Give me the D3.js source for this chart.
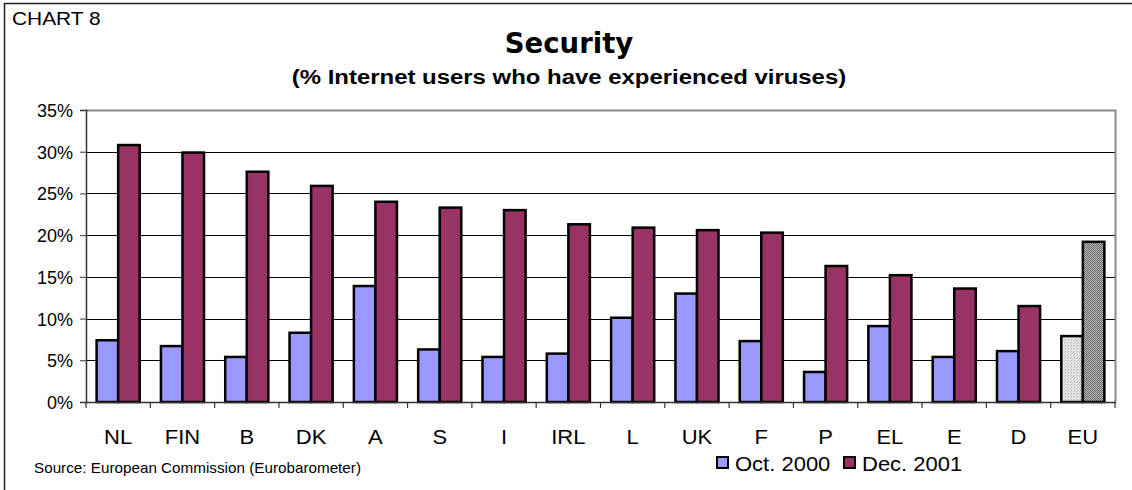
<!DOCTYPE html>
<html><head><meta charset="utf-8">
<script src="https://cdn.jsdelivr.net/npm/d3@7"></script>
<style>
html,body{margin:0;padding:0;background:#fff;}
svg{display:block;font-family:Arial,"Liberation Sans",sans-serif;}
</style></head>
<body>
<svg id="chart" width="1132" height="490"></svg>
<script>
const categories = ["NL","FIN","B","DK","A","S","I","IRL","L","UK","F","P","EL","E","D","EU"];
const oct2000 = [7.4,6.7,5.4,8.3,13.9,6.3,5.4,5.8,10.1,13.0,7.3,3.6,9.1,5.4,6.1,7.9];
const dec2001 = [30.8,29.9,27.6,25.9,24.0,23.3,23.0,21.3,20.9,20.6,20.3,16.3,15.2,13.6,11.5,19.2];
const seriesNames = ["Oct. 2000","Dec. 2001"];
const yTicks = [0,5,10,15,20,25,30,35];

const svg = d3.select("#chart");
const W = 1132, H = 490;
const plot = {left:86, right:1115, top:110, bottom:402};
const colors = ["#9999FF","#993366"];

function stext(parent, x0, y0, sx, str, size, opts) {
  opts = opts || {};
  const t = parent.append("text")
    .attr("transform", `translate(${x0},${y0}) scale(${sx},1)`)
    .attr("font-size", size)
    .attr("text-anchor", opts.anchor || "start")
    .attr("fill", "#000")
    .text(str);
  if (opts.weight) t.attr("font-weight", opts.weight);
  if (opts.family) t.attr("font-family", opts.family);
  return t;
}

// patterns for EU
const defs = svg.append("defs");
const p1 = defs.append("pattern").attr("id","euA").attr("patternUnits","userSpaceOnUse").attr("width",3).attr("height",3);
p1.append("rect").attr("width",3).attr("height",3).attr("fill","#e4e4e4");
p1.append("rect").attr("x",0).attr("y",0).attr("width",1).attr("height",1).attr("fill","#b0b0b0");
p1.append("rect").attr("x",2).attr("y",1).attr("width",1).attr("height",1).attr("fill","#c8c8c8");
const p2 = defs.append("pattern").attr("id","euB").attr("patternUnits","userSpaceOnUse").attr("width",2).attr("height",2);
p2.append("rect").attr("width",2).attr("height",2).attr("fill","#b4b4b4");
p2.append("rect").attr("x",0).attr("y",0).attr("width",1).attr("height",1).attr("fill","#6e6e6e");
p2.append("rect").attr("x",1).attr("y",1).attr("width",1).attr("height",1).attr("fill","#6e6e6e");

// outer frame
svg.append("path").attr("d",`M4.5,${H} V3.5 H${W}`).attr("fill","none").attr("stroke","#222").attr("stroke-width",1.5);

const x = d3.scaleBand().domain(categories).range([plot.left, plot.right]).paddingInner(0.33).paddingOuter(0.165);
const xs = d3.scaleBand().domain([0,1]).range([0, x.bandwidth()]);
const y = d3.scaleLinear().domain([0,35]).range([plot.bottom, plot.top]);

// gridlines
svg.append("g").selectAll("line").data(yTicks.filter(t=>t>0 && t<35)).join("line")
  .attr("x1",plot.left).attr("x2",plot.right)
  .attr("y1",d=>Math.round(y(d))+0.5).attr("y2",d=>Math.round(y(d))+0.5)
  .attr("stroke","#000").attr("stroke-width",1);
// plot border top/right gray
svg.append("path").attr("d",`M${plot.left},${plot.top+0.5} H${plot.right+0.5} V${plot.bottom}`)
  .attr("fill","none").attr("stroke","#888").attr("stroke-width",2);

// bars
const data = categories.map((c,i)=>({c, vals:[oct2000[i],dec2001[i]]}));
const g = svg.append("g");
data.forEach((d,i)=>{
  d.vals.forEach((v,s)=>{
    let fill = colors[s];
    if (d.c === "EU") fill = s===0 ? "url(#euA)" : "url(#euB)";
    g.append("rect")
      .attr("x", x(d.c)+xs(s))
      .attr("y", y(v))
      .attr("width", xs.bandwidth())
      .attr("height", y(0)-y(v))
      .attr("fill", fill)
      .attr("stroke","#000").attr("stroke-width",2.5);
  });
});

// left axis
const yAxis = d3.axisLeft(y).tickValues(yTicks).tickSize(6).tickFormat(d=>d+"%");
const ya = svg.append("g").attr("transform",`translate(${plot.left},0)`).call(yAxis);
ya.select(".domain").attr("stroke","#333").attr("stroke-width",1.5);
ya.selectAll(".tick line").attr("stroke","#333");
ya.selectAll(".tick text").attr("x",-13).attr("font-size",18).attr("fill","#000")
  .attr("font-family","Arial, 'Liberation Sans', sans-serif").attr("dy","0.36em");

// bottom axis
svg.append("line").attr("x1",plot.left).attr("x2",plot.right+1).attr("y1",plot.bottom+0.5).attr("y2",plot.bottom+0.5)
  .attr("stroke","#333").attr("stroke-width",1.5);
const boundaries = categories.map(c=>x(c)-x.step()*x.paddingInner()/2).concat([plot.right]);
svg.append("g").selectAll("line").data(boundaries).join("line")
  .attr("x1",d=>d).attr("x2",d=>d).attr("y1",plot.bottom).attr("y2",plot.bottom+6)
  .attr("stroke","#333").attr("stroke-width",1.2);
const xl = svg.append("g");
categories.forEach(c=>{
  stext(xl, x(c)+x.bandwidth()/2, 444, 1.1, c, 20, {anchor:"middle"});
});

// titles
stext(svg, 12, 25, 1.1, "CHART 8", 19);
stext(svg, 569, 53, 0.95, "Security", 29, {anchor:"middle", weight:"bold", family:"Tahoma, 'DejaVu Sans', Verdana, sans-serif"});
stext(svg, 569, 84, 1.14, "(% Internet users who have experienced viruses)", 21, {anchor:"middle", weight:"bold"});

// source
stext(svg, 34, 473, 1.09, "Source: European Commission (Eurobarometer)", 14);

// legend
const leg = svg.append("g");
const legX = [717, 844];
seriesNames.forEach((n,i)=>{
  leg.append("rect").attr("x",legX[i]).attr("y",457).attr("width",11).attr("height",11)
    .attr("fill",colors[i]).attr("stroke","#000").attr("stroke-width",2);
  stext(leg, legX[i]+18, 471, 1.1, n, 20);
});
</script>
</body></html>
